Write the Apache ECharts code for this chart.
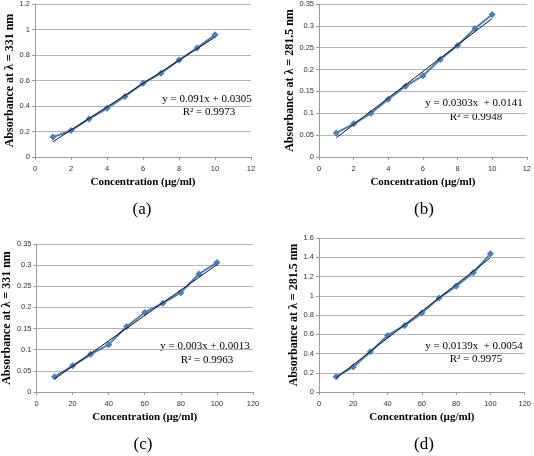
<!DOCTYPE html>
<html>
<head>
<meta charset="utf-8">
<script src="https://cdn.jsdelivr.net/npm/echarts@6/dist/echarts.min.js"></script>
<style>
  html, body { margin: 0; padding: 0; background: #fff; }
  #echart-box { width: 534px; height: 456px; }
</style>
</head>
<body>
<div id="echart-box"></div>
<script>
// concentrations (µg/ml)
var concA = [1, 2, 3, 4, 5, 6, 7, 8, 9, 10];
var concB = [1, 2, 3, 4, 5, 6, 7, 8, 9, 10];
var concC = [10, 20, 30, 40, 50, 60, 70, 80, 90, 100];
var concD = [10, 20, 30, 40, 50, 60, 70, 80, 90, 100];

// absorbance readings
var absA = [0.156, 0.208, 0.299, 0.382, 0.475, 0.579, 0.657, 0.761, 0.855, 0.958];
var absB = [0.055, 0.076, 0.100, 0.132, 0.162, 0.186, 0.223, 0.255, 0.294, 0.326];
var absC = [0.036, 0.062, 0.089, 0.112, 0.155, 0.188, 0.210, 0.235, 0.279, 0.306];
var absD = [0.159, 0.260, 0.419, 0.588, 0.692, 0.820, 0.976, 1.100, 1.239, 1.436];

// trendline end points
var trendA = [[1, 0.12], [10, 0.94]];
var trendB = [[1, 0.044], [10, 0.317]];
var trendC = [[10, 0.031], [100, 0.301]];
var trendD = [[10, 0.144], [100, 1.395]];

var equations = ['y = 0.091x + 0.0305', 'y = 0.0303x  + 0.0141', 'y = 0.003x + 0.0013', 'y = 0.0139x  + 0.0054'];
var rSquared = ['R² = 0.9973', 'R² = 0.9948', 'R² = 0.9963', 'R² = 0.9975'];
var panelLabels = ['(a)', '(b)', '(c)', '(d)'];
var yTitles = ['Absorbance at λ = 331 nm', 'Absorbance at λ = 281.5 nm', 'Absorbance at λ = 331 nm', 'Absorbance at λ = 281.5 nm'];
var xTitle = 'Concentration (µg/ml)';

function init() {
    const element = document.getElementById("echart-box");
    const instance = echarts.init(element);

    var serif = '"Liberation Serif", "Times New Roman", serif';
    var sans = '"Liberation Sans", Arial, sans-serif';

    var grids = [
      { left: 35, right: 283, top: 3, bottom: 299 },
      { left: 319, right: 7, top: 3, bottom: 299 },
      { left: 34, right: 281, top: 244, bottom: 64 },
      { left: 319, right: 9, top: 238, bottom: 64 }
    ];
    var xRanges = [[0, 12, 2], [0, 12, 2], [0, 120, 20], [0, 120, 20]];
    var yRanges = [[0, 1.2, 0.2], [0, 0.35, 0.05], [0, 0.35, 0.05], [0, 1.6, 0.2]];
    var yGaps = [19, 23, 20, 18];
    var concs = [concA, concB, concC, concD];
    var absorb = [absA, absB, absC, absD];
    var trends = [trendA, trendB, trendC, trendD];

    var xAxes = [], yAxes = [], series = [];
    for (var i = 0; i < 4; i++) {
      xAxes.push({
        gridIndex: i,
        type: 'value',
        min: xRanges[i][0], max: xRanges[i][1], interval: xRanges[i][2],
        name: xTitle,
        nameLocation: 'middle',
        nameGap: 20,
        nameTextStyle: { fontFamily: serif, fontWeight: 'bold', fontSize: 11, color: '#000' },
        axisLine: { lineStyle: { color: '#9a9a9a' } },
        axisTick: { show: true, length: 3, lineStyle: { color: '#9a9a9a' } },
        axisLabel: { fontFamily: sans, fontSize: 7.5, color: '#333', margin: 8 },
        splitLine: { show: false }
      });
      yAxes.push({
        gridIndex: i,
        type: 'value',
        min: yRanges[i][0], max: yRanges[i][1], interval: yRanges[i][2],
        name: yTitles[i],
        nameLocation: 'middle',
        nameGap: yGaps[i],
        nameTextStyle: { fontFamily: serif, fontWeight: 'bold', fontSize: 12, color: '#000' },
        axisLine: { show: true, lineStyle: { color: '#9a9a9a' } },
        axisTick: { show: true, length: 3, lineStyle: { color: '#9a9a9a' } },
        axisLabel: { fontFamily: sans, fontSize: 7.5, color: '#333', margin: 5 },
        splitLine: { show: true, lineStyle: { color: '#b4b4b4', width: 1 } }
      });
      var pts = [];
      for (var j = 0; j < concs[i].length; j++) pts.push([concs[i][j], absorb[i][j]]);
      series.push({
        type: 'line',
        xAxisIndex: i, yAxisIndex: i,
        data: pts,
        symbol: 'diamond',
        symbolSize: 7,
        showSymbol: true,
        itemStyle: { color: '#4a7ebb' },
        lineStyle: { color: '#4a7ebb', width: 2 },
        z: 2
      });
      series.push({
        type: 'line',
        xAxisIndex: i, yAxisIndex: i,
        data: trends[i],
        symbol: 'none',
        lineStyle: { color: '#111', width: 1 },
        z: 3
      });
    }

    var eqPos = [[207, 99, 112], [474, 103, 117], [205, 346, 360], [474, 346, 359]];
    var labelPos = [[142, 210], [424, 210], [143, 445], [424, 445]];
    var graphics = [];
    for (var k = 0; k < 4; k++) {
      graphics.push({
        type: 'text', x: eqPos[k][0], y: eqPos[k][1],
        style: { text: equations[k], font: '11px ' + serif, fill: '#000', textAlign: 'center', textVerticalAlign: 'middle' }
      });
      graphics.push({
        type: 'text', x: eqPos[k][0] + 2, y: eqPos[k][2],
        style: { text: rSquared[k], font: '11px ' + serif, fill: '#000', textAlign: 'center', textVerticalAlign: 'middle' }
      });
      graphics.push({
        type: 'text', x: labelPos[k][0], y: labelPos[k][1],
        style: { text: panelLabels[k], font: '17px ' + serif, fill: '#000', textAlign: 'center', textVerticalAlign: 'middle' }
      });
    }

    option = {
      animation: false,
      backgroundColor: '#fff',
      grid: grids,
      xAxis: xAxes,
      yAxis: yAxes,
      series: series,
      graphic: graphics
    };
    option && instance.setOption(option)

    window.onresize = function () {
        instance.resize()
    }
}
init();
</script>
</body>
</html>
